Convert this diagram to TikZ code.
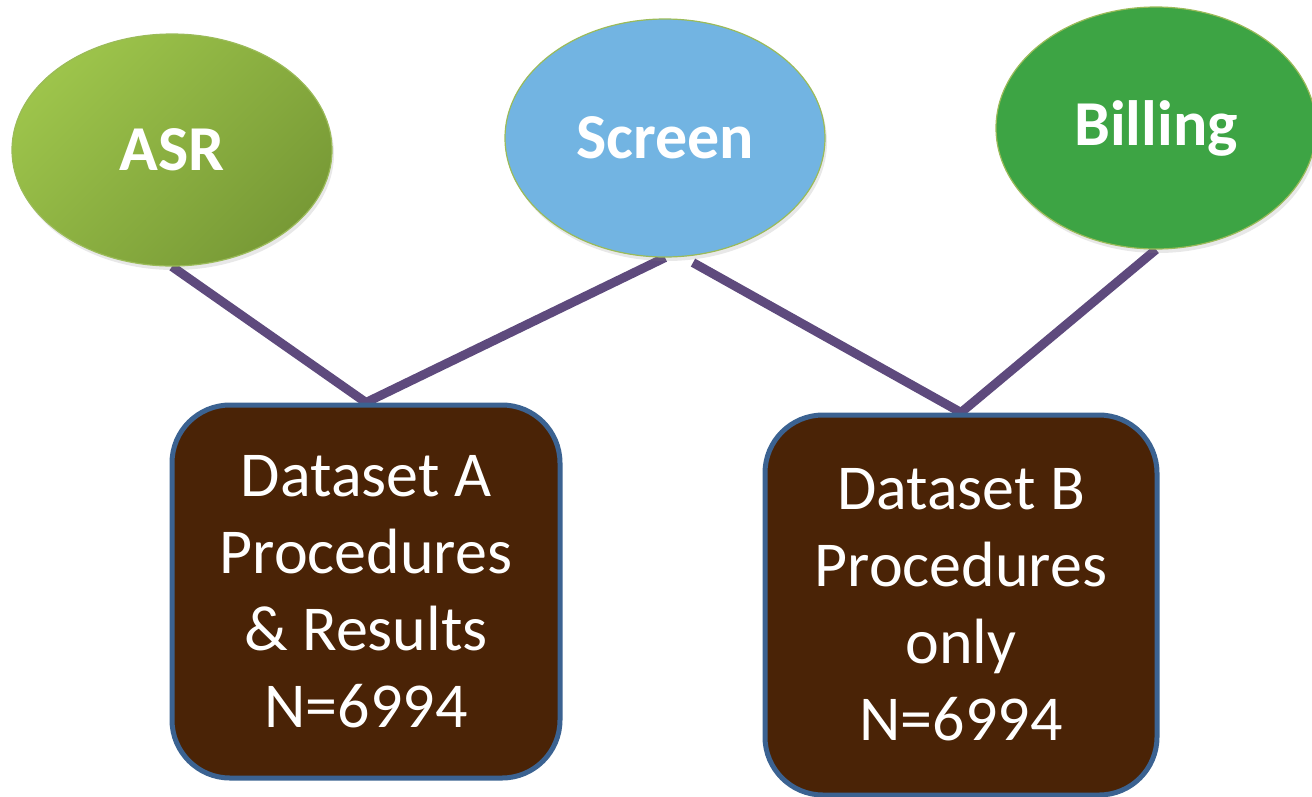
\documentclass[tikz,border=0pt]{standalone}
\usepackage{fontspec}
\setmainfont{Carlito}
\usetikzlibrary{shapes.geometric,shadows,backgrounds,calc}

\definecolor{asrlight}{HTML}{9DC44B}
\definecolor{asrdark}{HTML}{789A36}
\definecolor{screenfill}{HTML}{72B4E2}
\definecolor{billfill}{HTML}{3DA444}
\definecolor{rimgreen}{HTML}{9BBB59}
\definecolor{boxfill}{HTML}{4A2306}
\definecolor{boxrim}{HTML}{3B6291}
\definecolor{linkcol}{HTML}{5E4A7D}

\tikzset{
  source/.style={ellipse, draw=rimgreen, line width=1.2pt,
    minimum width=320pt, minimum height=232pt, inner sep=0pt,
    text=white, font=\fontsize{64}{76}\selectfont\bfseries,
    drop shadow={opacity=0.18, shadow xshift=2pt, shadow yshift=-4pt}},
  dataset/.style={rectangle, rounded corners=58pt, draw=boxrim, line width=5pt,
    fill=boxfill, text=white, align=center, inner sep=0pt,
    font=\fontsize{64}{77}\selectfont},
  link/.style={draw=linkcol, line width=9pt}
}

\begin{document}
\begin{tikzpicture}[x=1pt,y=-1pt]
\useasboundingbox (0,0) rectangle (1312,796);

% source ellipses
\node[source, top color=asrlight, bottom color=asrdark,
      shading angle=45] (asr) at (172,150) {ASR};
\node[source, fill=screenfill, minimum height=238pt] (screen) at (665,138) {Screen};
\node[source, fill=billfill, minimum height=242pt] (bill) at (1156,128) {Billing};

% dataset boxes
\node[dataset, minimum width=388pt, minimum height=373pt] (dsa) at (366,591.5)
  {Dataset A\\Procedures\\\&~Results\\N=6994};
\node[dataset, minimum width=392pt, minimum height=380pt] (dsb) at (961,605)
  {Dataset B\\Procedures\\only\\N=6994};

\coordinate (screenB) at ($(screen.south)+(28,5)$);

% connectors, kept behind the boxes
\begin{scope}[on background layer]
  \draw[link] (asr.south) -- (dsa.north);
  \draw[link] (screen.south) -- (dsa.north);
  \draw[link] (screenB) -- (dsb.north);
  \draw[link] (bill.south) -- (dsb.north);
\end{scope}
\end{tikzpicture}
\end{document}
